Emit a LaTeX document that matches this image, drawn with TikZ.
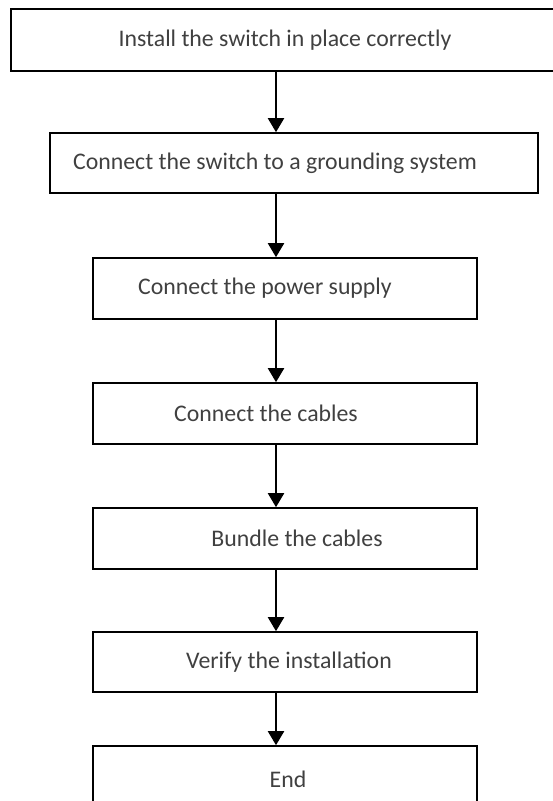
\documentclass[tikz,border=0pt]{standalone}
\usepackage{fontspec}
\setmainfont{Carlito}
\usetikzlibrary{arrows.meta}
\definecolor{ink}{HTML}{404040}

\begin{document}
\begin{tikzpicture}[x=1pt,y=-1pt,
  stepbox/.style={draw=black,line width=1.6pt,inner sep=0pt},
  steptext/.style={text=ink,inner sep=0pt,font=\fontsize{23.8}{28}\selectfont},
  flow/.style={line width=2pt,-{Triangle[length=14pt,width=16pt]}}]
\useasboundingbox (0,0) rectangle (552,801);
\coordinate (axis) at (276,0);
% boxes: index / left / right / top / bottom / text x / text
\foreach \i/\xa/\xb/\ya/\yb/\tx/\t in {
 1/11/580/9/71/285/{Install the switch in place correctly},
 2/50/538/133/193/275/{Connect the switch to a grounding system},
 3/93/477/258/319/265/{Connect the power supply},
 4/93/477/383/444/266/{Connect the cables},
 5/93/477/508/569/297/{Bundle the cables},
 6/93/477/632/692/289/{Verify the installation},
 7/93/477/746/812/288/{End}}{
  \pgfmathsetmacro{\w}{\xb-\xa}
  \pgfmathsetmacro{\h}{\yb-\ya}
  \node[stepbox,minimum width=\w pt,minimum height=\h pt] (b\i) at ({(\xa+\xb)/2},{(\ya+\yb)/2}) {};
  \node[steptext] (t\i) at (\tx,{(\ya+\yb)/2}) {\t};
}
\foreach \i [evaluate=\i as \j using int(\i+1)] in {1,...,6}
  \draw[flow] (b\i.south -| axis) -- (b\j.north -| axis);
\end{tikzpicture}
\end{document}
